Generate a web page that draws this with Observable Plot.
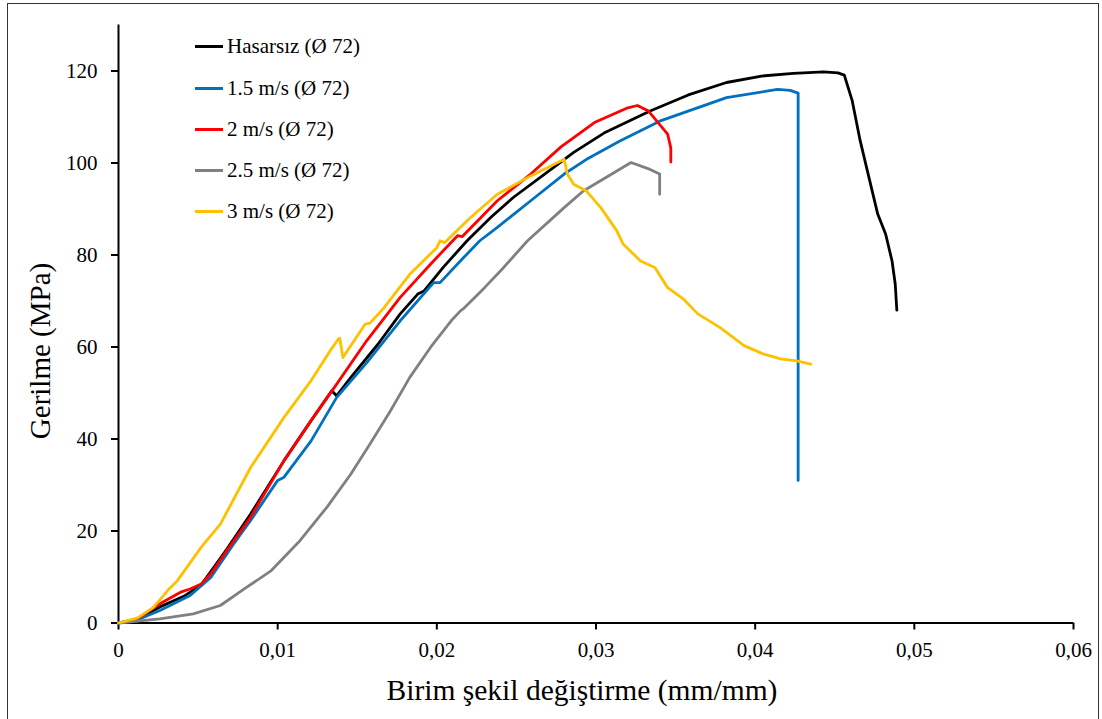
<!DOCTYPE html>
<html>
<head>
<meta charset="utf-8">
<script src="https://cdn.jsdelivr.net/npm/d3@7"></script>
<script src="https://cdn.jsdelivr.net/npm/@observablehq/plot@0.6"></script>
<style>
  html, body { margin: 0; padding: 0; background: #fff; }
  #wrap { position: relative; width: 1102px; height: 719px; overflow: hidden; font-family: "Liberation Serif", "Times New Roman", serif; }
  #frame { position: absolute; left: 7px; top: 3px; width: 1092px; height: 730px; border: 1.5px solid #333; box-sizing: border-box; pointer-events: none; }
  .lab { position: absolute; color: #000; white-space: nowrap; }
  #ytitle { left: 40px; top: 351px; font-size: 29px; transform: translate(-50%, -50%) rotate(-90deg); }
  #xtitle { left: 582px; top: 690px; font-size: 29.5px; transform: translate(-50%, -50%); }
  .leg { position: absolute; left: 195px; height: 24px; display: flex; align-items: center; font-size: 21px; transform: translateY(-50%); }
  .leg .sw { width: 28px; height: 3px; margin-right: 4px; }
</style>
</head>
<body>
<div id="wrap">
  <div id="chart"></div>
  <div id="frame"></div>
  <div id="ytitle" class="lab">Gerilme (MPa)</div>
  <div id="xtitle" class="lab">Birim şekil değiştirme (mm/mm)</div>
  <div id="legend"></div>
</div>
<script>
// ---- data (strain mm/mm, stress MPa) ----
const seriesNames = ["Hasarsız (Ø 72)", "1.5 m/s (Ø 72)", "2 m/s (Ø 72)", "2.5 m/s (Ø 72)", "3 m/s (Ø 72)"];
const seriesColors = ["#000000", "#0070C0", "#FF0000", "#808080", "#FFC000"];

const hasarsiz = [
  [0,0],[0.0012,0.9],[0.0026,3.5],[0.0041,5.8],[0.0052,8.3],[0.0068,16.0],[0.0083,23.7],[0.0104,35.3],
  [0.0121,44.0],[0.0134,50.5],[0.0137,49.4],[0.0146,53.4],[0.0163,60.6],[0.0177,67.2],[0.0188,71.5],[0.0192,72.2],
  [0.0204,77.3],[0.0219,83.1],[0.0234,88.2],[0.0248,92.5],[0.0269,97.9],[0.0286,102.3],[0.0305,106.5],[0.0334,111.3],
  [0.0358,114.8],[0.0382,117.5],[0.0404,118.9],[0.0424,119.5],[0.0443,119.8],[0.0452,119.6],[0.0456,119.1],
  [0.0461,113.5],[0.0466,104.8],[0.0472,96.1],[0.0477,88.9],[0.0482,84.5],[0.0486,78.7],[0.0488,73.7],[0.0489,68.0]
];
const v15 = [
  [0,0],[0.0012,0.7],[0.0026,2.7],[0.0045,6.0],[0.0058,9.9],[0.0072,17.0],[0.0083,22.3],[0.0100,31.0],
  [0.0104,31.7],[0.0121,39.6],[0.0137,49.0],[0.0156,56.6],[0.0177,65.7],[0.0198,74.0],[0.0202,74.0],
  [0.0217,79.5],[0.0227,83.1],[0.0238,86.0],[0.0259,91.8],[0.028,97.6],[0.0295,101.0],[0.0315,104.8],[0.034,109.1],
  [0.0382,114.2],[0.0414,116.0],[0.0422,115.8],[0.0427,115.2],[0.0427,31.0]
];
const v2 = [
  [0,0],[0.0012,0.9],[0.0026,4.2],[0.0039,6.7],[0.0045,7.4],[0.0052,8.5],[0.0058,10.7],[0.0068,15.7],
  [0.0083,23.0],[0.0104,35.3],[0.0120,43.5],[0.0135,50.9],[0.0156,61.4],[0.0177,70.8],[0.0196,78.0],
  [0.0213,84.2],[0.0216,84.0],[0.0238,91.8],[0.0259,97.6],[0.0278,103.5],[0.0299,108.8],[0.032,112.0],
  [0.0326,112.5],[0.0333,111.3],[0.0339,108.8],[0.0345,106.3],[0.0347,103.3],[0.0347,100.2]
];
const v25 = [
  [0,0],[0.0026,0.9],[0.0047,2.0],[0.0064,3.8],[0.0079,7.4],[0.0096,11.4],[0.0114,17.9],[0.0131,25.2],
  [0.0146,32.4],[0.0158,38.9],[0.0171,46.2],[0.0183,53.4],[0.0196,59.9],[0.0209,65.7],[0.0215,67.9],[0.0217,68.4],
  [0.0230,72.9],[0.0242,77.3],[0.0257,83.1],[0.028,90.3],[0.0292,93.9],[0.0306,96.8],[0.0322,100.1],[0.0334,98.6],[0.034,97.6],[0.034,93.2]
];
const v3 = [
  [0,0],[0.0012,1.1],[0.0022,3.4],[0.0031,7.1],[0.0037,9.2],[0.0052,16.5],[0.0064,21.5],[0.0083,33.8],
  [0.0104,44.7],[0.0121,52.7],[0.0133,59.2],[0.0138,61.7],[0.0139,61.9],[0.0141,57.7],[0.0155,65.0],
  [0.0158,65.2],[0.0167,68.6],[0.0183,75.8],[0.0200,81.6],[0.0202,83.1],[0.0205,82.7],[0.0221,88.1],[0.0238,93.2],
  [0.0259,97.2],[0.028,100.8],[0.0282,97.6],[0.0286,95.4],[0.0294,93.9],[0.0303,90.3],[0.0313,85.3],
  [0.0317,82.4],[0.0328,78.7],[0.0337,77.3],[0.0345,72.9],[0.0355,70.4],[0.0364,67.2],[0.0378,64.2],
  [0.0393,60.3],[0.0405,58.5],[0.0416,57.4],[0.0426,57.0],[0.0435,56.3]
];
const xTicks = [0, 0.01, 0.02, 0.03, 0.04, 0.05, 0.06];
const xTickLabels = ["0", "0,01", "0,02", "0,03", "0,04", "0,05", "0,06"];
const yTicks = [0, 20, 40, 60, 80, 100, 120];

const allSeries = [hasarsiz, v15, v2, v25, v3];
const rows = allSeries.flatMap((s, k) => s.map(([x, y]) => ({x, y, s: seriesNames[k]})));

const chart = Plot.plot({
  width: 1102,
  height: 719,
  marginLeft: 118,
  marginRight: 29,
  marginTop: 24.5,
  marginBottom: 96.5,
  style: {fontFamily: "Liberation Serif, Times New Roman, serif", color: "#000", background: "transparent"},
  x: {domain: [0, 0.06]},
  y: {domain: [0, 130]},
  color: {domain: seriesNames, range: seriesColors},
  marks: [
    Plot.axisX({ticks: xTicks, tickFormat: (d) => xTickLabels[xTicks.indexOf(d)], tickSize: 7, tickPadding: 12, fontSize: 21, strokeWidth: 2, label: null}),
    Plot.axisY({ticks: yTicks, tickSize: 7, tickPadding: 14, fontSize: 21, strokeWidth: 2, label: null}),
    Plot.ruleY([0], {stroke: "#000", strokeWidth: 2}),
    Plot.ruleX([0], {stroke: "#000", strokeWidth: 2}),
    Plot.line(rows, {x: "x", y: "y", z: "s", stroke: "s", strokeWidth: 2.8, strokeLinejoin: "round", strokeLinecap: "round"})
  ]
});
document.getElementById("chart").appendChild(chart);

const legend = document.getElementById("legend");
const legTop = [46.5, 88, 129.3, 170.6, 211.9];
seriesNames.forEach((n, i) => {
  const d = document.createElement("div");
  d.className = "leg";
  d.style.top = legTop[i] + "px";
  d.innerHTML = `<span class="sw" style="background:${seriesColors[i]}"></span><span>${n}</span>`;
  legend.appendChild(d);
});
</script>
</body>
</html>
